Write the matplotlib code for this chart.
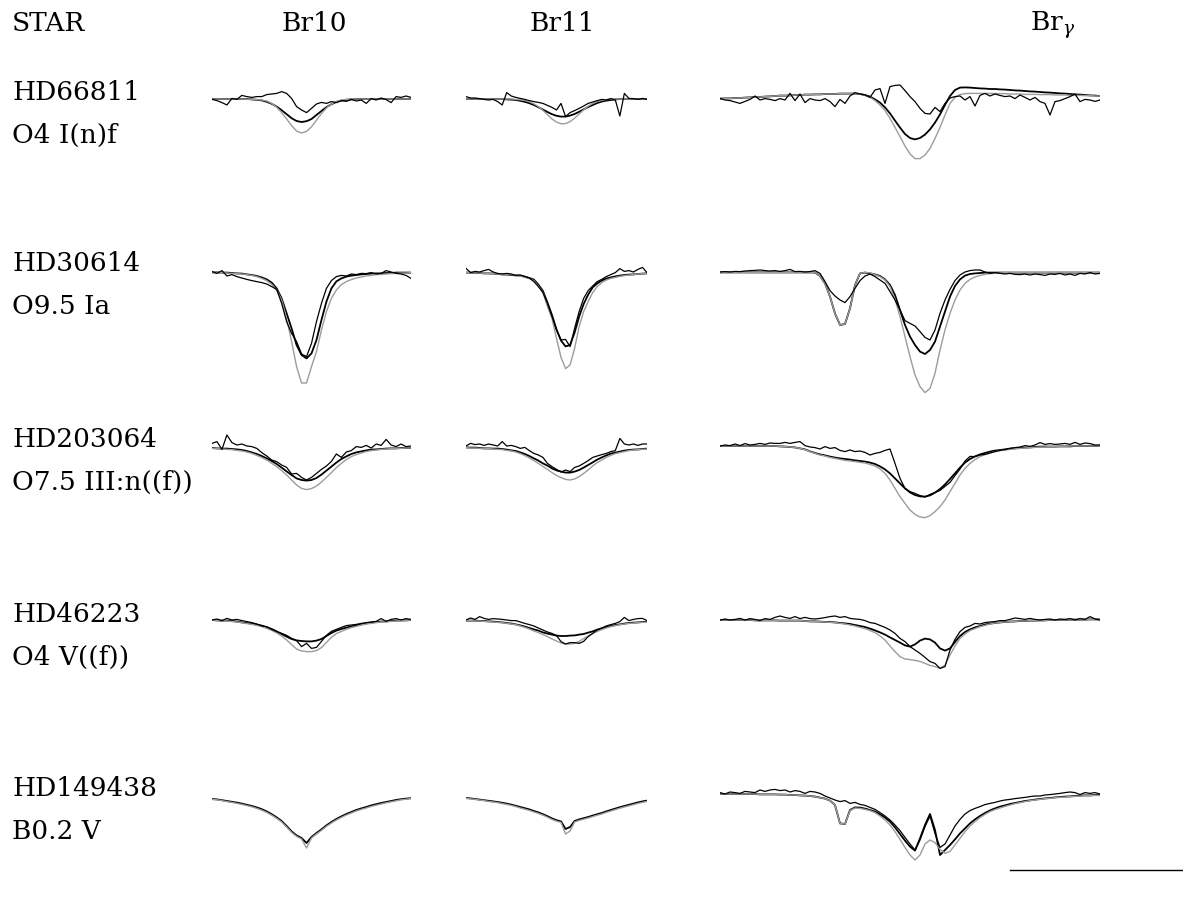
import numpy as np
import matplotlib.pyplot as plt

plt.rcParams['font.family'] = 'DejaVu Serif'
plt.rcParams['mathtext.fontset'] = 'dejavuserif'

# Labels
stars = ['HD66811', 'HD30614', 'HD203064', 'HD46223', 'HD149438']
sptypes = ['O4 I(n)f', 'O9.5 Ia', 'O7.5 III:n((f))', 'O4 V((f))', 'B0.2 V']
line_names = ['Br10', 'Br11', r'Br$_\gamma$']

# Wavelength windows (micron) of each column
br10_window = (1.7263, 1.7493)
br11_window = (1.66965, 1.69057)
brg_window = (2.14356, 2.18749)
scale_bar_len = 0.02   # micron
scale_bar_start = 2.1771

# Normalised flux: obs = observed spectrum, fit = black model, alt = grey model
# ---- HD66811 ----
hd66811_br10_obs = [0.998, 0.992, 0.982, 0.97, 1.003, 0.998, 1.018, 1.012, 1.008, 1.012,
                    1.012, 1.022, 1.025, 1.028, 1.037, 1.028, 1.003, 0.962, 0.945, 0.932,
                    0.953, 0.975, 0.983, 0.978, 0.987, 0.982, 0.992, 0.988, 0.998, 0.99,
                    0.995, 0.978, 1.002, 0.995, 1.005, 0.997, 0.982, 1.012, 1.008, 1.015, 1.008]
hd66811_br10_fit = [1.0, 1.0, 1.0, 1.0, 1.0, 1.0, 1.0, 1.0, 0.998, 0.996,
                    0.993, 0.986, 0.976, 0.962, 0.944, 0.924, 0.904, 0.89, 0.885, 0.889,
                    0.9, 0.92, 0.94, 0.959, 0.974, 0.985, 0.992, 0.996, 0.998, 1.0,
                    1.0, 1.0, 1.0, 1.0, 1.0, 1.0, 1.0, 1.0, 1.0, 1.0, 1.0]
hd66811_br10_alt = [1.0, 1.0, 1.0, 1.0, 1.0, 1.0, 1.0, 0.999, 0.998, 0.997,
                    0.995, 0.99, 0.978, 0.959, 0.932, 0.9, 0.867, 0.84, 0.83, 0.838,
                    0.861, 0.894, 0.927, 0.955, 0.975, 0.988, 0.995, 0.998, 1.0, 1.0,
                    1.0, 1.0, 1.0, 1.0, 1.0, 1.0, 1.0, 1.0, 1.0, 1.0, 1.0]
hd66811_br11_obs = [1.012, 1.005, 1.005, 1.002, 0.998, 0.995, 0.998, 0.987, 0.97, 1.032,
                    1.015, 1.008, 1.003, 0.998, 0.992, 0.987, 0.983, 0.978, 0.968, 0.958,
                    0.945, 0.978, 0.912, 0.932, 0.942, 0.953, 0.965, 0.978, 0.985, 0.992,
                    0.998, 0.995, 1.002, 0.995, 0.915, 1.028, 1.003, 1.002, 0.998, 1.003, 0.998]
hd66811_br11_fit = [1.0, 1.0, 1.0, 1.0, 1.0, 1.0, 1.0, 1.0, 1.0, 0.998,
                    0.997, 0.995, 0.991, 0.986, 0.979, 0.97, 0.959, 0.947, 0.935, 0.924,
                    0.916, 0.912, 0.912, 0.917, 0.925, 0.936, 0.948, 0.96, 0.97, 0.98,
                    0.987, 0.992, 0.995, 0.998, 1.0, 1.0, 1.0, 1.0, 1.0, 1.0, 1.0]
hd66811_br11_alt = [1.0, 1.0, 1.0, 1.0, 1.0, 1.0, 1.0, 1.0, 1.0, 1.0,
                    1.0, 0.998, 0.996, 0.993, 0.986, 0.976, 0.962, 0.943, 0.922, 0.9,
                    0.885, 0.876, 0.877, 0.887, 0.904, 0.925, 0.946, 0.964, 0.978, 0.988,
                    0.993, 0.997, 1.0, 1.0, 1.0, 1.0, 1.0, 1.0, 1.0, 1.0, 1.0]
hd66811_brg_obs = [1.003, 0.995, 0.992, 0.985, 0.978, 0.988, 0.998, 1.015, 0.995, 1.002,
                   0.998, 0.992, 1.002, 0.995, 1.028, 0.992, 1.025, 0.982, 1.002, 0.995,
                   0.992, 1.002, 0.987, 0.962, 0.998, 0.978, 1.015, 1.032, 1.025, 1.02,
                   1.008, 1.045, 1.052, 0.978, 1.062, 1.068, 1.07, 1.042, 1.012, 0.987,
                   0.953, 0.928, 0.925, 0.958, 0.937, 0.978, 1.005, 1.012, 1.015, 0.995,
                   1.012, 0.965, 1.018, 1.028, 1.015, 1.025, 1.018, 1.012, 1.015, 1.002,
                   1.02, 1.008, 0.995, 1.008, 0.987, 0.978, 0.92, 0.987, 0.992, 1.002,
                   1.012, 1.025, 0.987, 0.998, 0.995, 0.988, 0.995]
hd66811_brg_fit = [1.002, 1.003, 1.003, 1.005, 1.005, 1.007, 1.008, 1.01, 1.01, 1.012,
                   1.013, 1.015, 1.017, 1.017, 1.018, 1.02, 1.02, 1.022, 1.022, 1.023,
                   1.023, 1.025, 1.025, 1.025, 1.027, 1.027, 1.027, 1.027, 1.025, 1.02,
                   1.012, 0.998, 0.982, 0.958, 0.928, 0.892, 0.857, 0.825, 0.805, 0.798,
                   0.805, 0.822, 0.848, 0.882, 0.923, 0.97, 1.015, 1.045, 1.057, 1.058,
                   1.057, 1.055, 1.053, 1.052, 1.05, 1.05, 1.048, 1.047, 1.045, 1.043,
                   1.042, 1.04, 1.038, 1.037, 1.035, 1.033, 1.032, 1.03, 1.028, 1.027,
                   1.025, 1.023, 1.022, 1.02, 1.018, 1.017, 1.015]
hd66811_brg_alt = [1.002, 1.003, 1.003, 1.005, 1.005, 1.007, 1.008, 1.01, 1.01, 1.012,
                   1.013, 1.015, 1.017, 1.017, 1.018, 1.02, 1.02, 1.022, 1.022, 1.023,
                   1.023, 1.025, 1.025, 1.025, 1.027, 1.027, 1.027, 1.027, 1.025, 1.018,
                   1.008, 0.992, 0.97, 0.942, 0.903, 0.858, 0.812, 0.765, 0.725, 0.702,
                   0.702, 0.72, 0.753, 0.803, 0.858, 0.92, 0.978, 1.008, 1.022, 1.027,
                   1.028, 1.028, 1.028, 1.028, 1.028, 1.027, 1.027, 1.027, 1.025, 1.025,
                   1.025, 1.023, 1.023, 1.023, 1.022, 1.022, 1.022, 1.02, 1.02, 1.02,
                   1.018, 1.018, 1.018, 1.017, 1.017, 1.015, 1.015]

# ---- HD30614 ----
hd30614_br10_obs = [1.007, 0.998, 1.012, 0.985, 0.992, 0.982, 0.975, 0.968, 0.962, 0.957,
                    0.952, 0.945, 0.932, 0.918, 0.848, 0.757, 0.698, 0.657, 0.595, 0.582,
                    0.648, 0.757, 0.848, 0.923, 0.962, 0.982, 0.988, 0.985, 0.995, 0.992,
                    0.998, 0.997, 1.002, 0.995, 0.998, 1.012, 1.005, 0.998, 0.995, 0.988, 0.973]
hd30614_br10_fit = [1.003, 1.003, 1.002, 1.002, 1.0, 0.998, 0.997, 0.993, 0.99, 0.985,
                    0.978, 0.968, 0.952, 0.923, 0.873, 0.798, 0.723, 0.64, 0.59, 0.573,
                    0.598, 0.665, 0.765, 0.857, 0.923, 0.958, 0.973, 0.982, 0.987, 0.99,
                    0.993, 0.995, 0.997, 0.998, 0.998, 1.0, 1.0, 1.002, 1.002, 1.002, 1.002]
hd30614_br10_alt = [1.002, 1.002, 1.002, 1.0, 0.998, 0.997, 0.995, 0.992, 0.988, 0.982,
                    0.973, 0.962, 0.943, 0.915, 0.865, 0.773, 0.657, 0.532, 0.45, 0.45,
                    0.532, 0.607, 0.715, 0.807, 0.873, 0.915, 0.942, 0.957, 0.967, 0.975,
                    0.98, 0.985, 0.988, 0.992, 0.993, 0.995, 0.997, 0.998, 1.0, 1.0, 1.002]
hd30614_br11_obs = [1.023, 1.002, 1.008, 1.005, 1.012, 1.018, 1.005, 0.998, 0.995, 0.998,
                    0.995, 0.988, 0.99, 0.982, 0.975, 0.957, 0.932, 0.902, 0.848, 0.782,
                    0.715, 0.665, 0.668, 0.632, 0.723, 0.807, 0.873, 0.912, 0.935, 0.957,
                    0.968, 0.982, 0.992, 1.002, 1.022, 1.008, 1.012, 1.005, 1.018, 1.028, 1.002]
hd30614_br11_fit = [1.002, 1.002, 1.0, 1.0, 0.998, 0.998, 0.997, 0.995, 0.993, 0.992,
                    0.99, 0.988, 0.987, 0.982, 0.975, 0.967, 0.942, 0.91, 0.852, 0.79,
                    0.718, 0.662, 0.633, 0.64, 0.702, 0.782, 0.845, 0.892, 0.928, 0.948,
                    0.962, 0.972, 0.978, 0.983, 0.987, 0.99, 0.992, 0.993, 0.995, 0.997, 0.998]
hd30614_br11_alt = [1.002, 1.002, 1.0, 1.0, 0.998, 0.998, 0.997, 0.995, 0.993, 0.992,
                    0.992, 0.99, 0.985, 0.978, 0.972, 0.962, 0.935, 0.902, 0.832, 0.773,
                    0.673, 0.578, 0.522, 0.54, 0.623, 0.732, 0.807, 0.857, 0.902, 0.932,
                    0.952, 0.965, 0.973, 0.978, 0.983, 0.987, 0.99, 0.992, 0.995, 0.997, 0.998]
hd30614_brg_obs = [1.005, 1.007, 1.005, 1.008, 1.007, 1.01, 1.012, 1.013, 1.015, 1.012,
                   1.01, 1.012, 1.008, 1.012, 1.018, 1.007, 1.008, 1.005, 1.007, 1.012,
                   0.998, 0.957, 0.912, 0.885, 0.865, 0.852, 0.882, 0.923, 0.962, 0.985,
                   0.995, 0.982, 0.965, 0.948, 0.907, 0.865, 0.815, 0.762, 0.748, 0.735,
                   0.707, 0.678, 0.665, 0.715, 0.798, 0.865, 0.918, 0.962, 0.99, 1.005,
                   1.012, 1.015, 1.015, 1.005, 0.998, 1.002, 0.998, 0.995, 0.998, 0.993,
                   0.992, 0.995, 0.99, 0.995, 0.992, 0.988, 0.995, 0.993, 0.998, 0.99,
                   0.995, 0.988, 0.998, 0.995, 1.002, 0.995, 0.998]
hd30614_brg_fit = [1.003, 1.003, 1.003, 1.003, 1.003, 1.003, 1.003, 1.003, 1.003, 1.003,
                   1.003, 1.003, 1.003, 1.003, 1.003, 1.003, 1.003, 1.003, 1.003, 1.002,
                   0.985, 0.948, 0.882, 0.798, 0.74, 0.745, 0.823, 0.94, 0.998, 1.002,
                   0.998, 0.993, 0.985, 0.968, 0.94, 0.89, 0.815, 0.74, 0.682, 0.64,
                   0.607, 0.595, 0.615, 0.657, 0.732, 0.807, 0.882, 0.935, 0.968, 0.987,
                   0.995, 0.998, 1.0, 1.002, 1.002, 1.002, 1.002, 1.002, 1.002, 1.002,
                   1.002, 1.002, 1.002, 1.002, 1.002, 1.002, 1.002, 1.002, 1.002, 1.002,
                   1.002, 1.002, 1.002, 1.002, 1.002, 1.002, 1.002]
hd30614_brg_alt = [1.003, 1.003, 1.003, 1.003, 1.003, 1.003, 1.003, 1.003, 1.003, 1.003,
                   1.003, 1.003, 1.003, 1.003, 1.003, 1.003, 1.003, 1.003, 1.003, 1.002,
                   0.985, 0.948, 0.882, 0.798, 0.74, 0.745, 0.823, 0.94, 0.998, 1.003,
                   1.0, 0.992, 0.982, 0.965, 0.932, 0.868, 0.782, 0.682, 0.582, 0.49,
                   0.432, 0.402, 0.423, 0.498, 0.615, 0.715, 0.798, 0.865, 0.915, 0.948,
                   0.968, 0.98, 0.988, 0.993, 0.997, 0.998, 1.0, 1.002, 1.002, 1.002,
                   1.002, 1.002, 1.002, 1.002, 1.002, 1.002, 1.002, 1.003, 1.003, 1.003,
                   1.003, 1.003, 1.003, 1.003, 1.003, 1.003, 1.003]

# ---- HD203064 ----
hd203064_br10_obs = [1.023, 1.032, 0.993, 1.065, 1.027, 1.015, 1.02, 1.01, 1.007, 0.998,
                     0.977, 0.96, 0.94, 0.932, 0.915, 0.903, 0.87, 0.873, 0.853, 0.84,
                     0.853, 0.873, 0.893, 0.91, 0.933, 0.97, 0.953, 0.98, 0.987, 1.007,
                     1.003, 1.013, 1.0, 1.02, 1.013, 1.043, 1.015, 1.007, 1.02, 1.007, 1.01]
hd203064_br10_fit = [1.0, 0.998, 0.997, 0.997, 0.995, 0.993, 0.99, 0.985, 0.978, 0.97,
                     0.96, 0.948, 0.935, 0.92, 0.902, 0.883, 0.865, 0.848, 0.84, 0.837,
                     0.84, 0.85, 0.867, 0.887, 0.907, 0.927, 0.945, 0.958, 0.97, 0.978,
                     0.983, 0.988, 0.992, 0.993, 0.995, 0.997, 0.998, 0.998, 1.0, 1.0, 1.0]
hd203064_br10_alt = [0.998, 0.997, 0.995, 0.993, 0.992, 0.988, 0.985, 0.98, 0.973, 0.963,
                     0.952, 0.94, 0.923, 0.907, 0.887, 0.865, 0.84, 0.815, 0.798, 0.792,
                     0.797, 0.81, 0.83, 0.853, 0.877, 0.902, 0.923, 0.942, 0.957, 0.967,
                     0.975, 0.982, 0.987, 0.99, 0.993, 0.995, 0.997, 0.998, 0.998, 1.0, 1.0]
hd203064_br11_obs = [1.01, 1.023, 1.017, 1.02, 1.013, 1.02, 1.015, 1.01, 1.032, 1.01,
                     1.013, 1.007, 0.998, 1.003, 0.987, 0.973, 0.965, 0.953, 0.923, 0.907,
                     0.893, 0.88, 0.89, 0.882, 0.903, 0.91, 0.923, 0.937, 0.953, 0.96,
                     0.967, 0.973, 0.982, 0.987, 1.048, 1.02, 1.015, 1.02, 1.013, 1.02, 1.02]
hd203064_br11_fit = [1.003, 1.002, 1.002, 1.0, 0.998, 0.998, 0.997, 0.997, 0.995, 0.992,
                     0.988, 0.985, 0.978, 0.97, 0.96, 0.948, 0.937, 0.923, 0.912, 0.898,
                     0.888, 0.882, 0.877, 0.877, 0.882, 0.89, 0.902, 0.915, 0.928, 0.942,
                     0.953, 0.963, 0.972, 0.977, 0.982, 0.987, 0.99, 0.992, 0.993, 0.995, 0.997]
hd203064_br11_alt = [1.002, 1.0, 1.0, 0.998, 0.997, 0.997, 0.995, 0.993, 0.992, 0.988,
                     0.985, 0.98, 0.972, 0.962, 0.95, 0.937, 0.923, 0.908, 0.893, 0.877,
                     0.863, 0.852, 0.843, 0.84, 0.845, 0.857, 0.873, 0.89, 0.91, 0.927,
                     0.94, 0.953, 0.963, 0.972, 0.977, 0.982, 0.987, 0.99, 0.992, 0.993, 0.995]
hd203064_brg_obs = [1.01, 1.015, 1.012, 1.02, 1.012, 1.022, 1.015, 1.018, 1.023, 1.018,
                    1.025, 1.023, 1.023, 1.028, 1.023, 1.028, 1.032, 1.012, 1.005, 1.002,
                    0.995, 1.007, 0.998, 1.002, 0.988, 0.982, 0.99, 0.982, 0.985, 0.978,
                    0.965, 0.973, 0.978, 0.988, 0.995, 0.923, 0.848, 0.798, 0.782, 0.773,
                    0.762, 0.755, 0.768, 0.777, 0.788, 0.808, 0.828, 0.862, 0.895, 0.935,
                    0.958, 0.957, 0.965, 0.968, 0.975, 0.982, 0.988, 0.992, 0.998, 1.002,
                    1.005, 1.012, 1.008, 1.015, 1.027, 1.018, 1.022, 1.018, 1.02, 1.023,
                    1.018, 1.028, 1.018, 1.025, 1.022, 1.015, 1.015]
hd203064_brg_fit = [1.01, 1.01, 1.01, 1.01, 1.01, 1.01, 1.01, 1.01, 1.01, 1.01,
                    1.01, 1.01, 1.008, 1.007, 1.005, 1.003, 0.998, 0.993, 0.983, 0.975,
                    0.968, 0.963, 0.957, 0.952, 0.948, 0.945, 0.942, 0.938, 0.935, 0.932,
                    0.927, 0.92, 0.908, 0.893, 0.873, 0.848, 0.823, 0.798, 0.778, 0.765,
                    0.758, 0.757, 0.763, 0.777, 0.795, 0.818, 0.845, 0.873, 0.902, 0.927,
                    0.945, 0.958, 0.968, 0.975, 0.982, 0.987, 0.99, 0.993, 0.997, 0.998,
                    1.0, 1.002, 1.003, 1.005, 1.007, 1.007, 1.007, 1.007, 1.008, 1.008,
                    1.008, 1.01, 1.01, 1.01, 1.01, 1.01, 1.012]
hd203064_brg_alt = [1.01, 1.01, 1.01, 1.01, 1.01, 1.01, 1.01, 1.01, 1.01, 1.01,
                    1.01, 1.01, 1.008, 1.007, 1.005, 1.003, 0.998, 0.992, 0.982, 0.973,
                    0.965, 0.96, 0.953, 0.948, 0.943, 0.938, 0.935, 0.932, 0.928, 0.925,
                    0.918, 0.91, 0.895, 0.873, 0.84, 0.798, 0.757, 0.723, 0.69, 0.668,
                    0.655, 0.652, 0.662, 0.682, 0.707, 0.74, 0.782, 0.823, 0.865, 0.898,
                    0.923, 0.942, 0.957, 0.967, 0.975, 0.982, 0.987, 0.99, 0.993, 0.997,
                    0.998, 1.0, 1.002, 1.003, 1.005, 1.005, 1.007, 1.007, 1.008, 1.008,
                    1.01, 1.01, 1.01, 1.01, 1.01, 1.01, 1.012]

# ---- HD46223 ----
hd46223_br10_obs = [1.0, 1.005, 0.997, 1.008, 1.0, 1.003, 0.997, 0.992, 0.987, 0.98,
                    0.97, 0.967, 0.953, 0.942, 0.933, 0.923, 0.908, 0.897, 0.867, 0.883,
                    0.858, 0.863, 0.893, 0.923, 0.943, 0.953, 0.963, 0.972, 0.975, 0.978,
                    0.983, 0.987, 0.99, 0.993, 1.007, 0.993, 1.003, 1.007, 1.0, 1.007, 1.003]
hd46223_br10_fit = [1.0, 0.998, 0.997, 0.997, 0.995, 0.992, 0.988, 0.985, 0.982, 0.977,
                    0.972, 0.963, 0.955, 0.943, 0.93, 0.917, 0.905, 0.898, 0.895, 0.893,
                    0.893, 0.897, 0.905, 0.92, 0.935, 0.947, 0.955, 0.962, 0.968, 0.973,
                    0.978, 0.983, 0.987, 0.99, 0.992, 0.993, 0.995, 0.997, 0.998, 0.998, 1.0]
hd46223_br10_alt = [1.0, 0.998, 0.997, 0.995, 0.993, 0.99, 0.987, 0.982, 0.978, 0.973,
                    0.967, 0.958, 0.948, 0.935, 0.92, 0.9, 0.877, 0.855, 0.845, 0.842,
                    0.842, 0.847, 0.862, 0.888, 0.913, 0.932, 0.943, 0.953, 0.962, 0.968,
                    0.975, 0.98, 0.983, 0.987, 0.99, 0.992, 0.993, 0.995, 0.997, 0.998, 1.0]
hd46223_br11_obs = [1.0, 1.01, 1.003, 1.017, 1.008, 1.003, 1.007, 1.005, 1.003, 1.0,
                    0.997, 0.997, 0.99, 0.983, 0.977, 0.97, 0.96, 0.95, 0.94, 0.933,
                    0.922, 0.892, 0.88, 0.887, 0.887, 0.883, 0.893, 0.917, 0.933, 0.95,
                    0.96, 0.97, 0.977, 0.983, 0.992, 1.013, 0.997, 1.003, 1.007, 1.008, 0.997]
hd46223_br11_fit = [0.997, 0.997, 0.997, 0.995, 0.995, 0.993, 0.992, 0.99, 0.988, 0.985,
                    0.982, 0.978, 0.973, 0.967, 0.96, 0.953, 0.947, 0.938, 0.932, 0.927,
                    0.922, 0.92, 0.92, 0.922, 0.923, 0.927, 0.93, 0.937, 0.943, 0.952,
                    0.958, 0.965, 0.97, 0.975, 0.978, 0.982, 0.985, 0.987, 0.988, 0.99, 0.992]
hd46223_br11_alt = [0.997, 0.997, 0.995, 0.995, 0.993, 0.992, 0.99, 0.988, 0.987, 0.983,
                    0.98, 0.977, 0.97, 0.963, 0.955, 0.945, 0.937, 0.927, 0.917, 0.905,
                    0.895, 0.885, 0.88, 0.88, 0.883, 0.893, 0.907, 0.92, 0.933, 0.943,
                    0.952, 0.96, 0.967, 0.972, 0.977, 0.98, 0.983, 0.985, 0.987, 0.988, 0.99]
hd46223_brg_obs = [1.0, 1.005, 1.0, 1.003, 1.008, 1.0, 1.007, 1.003, 0.997, 1.007,
                   1.003, 1.013, 1.02, 1.013, 1.008, 1.017, 1.007, 1.013, 1.007, 1.005,
                   1.008, 1.012, 1.017, 1.02, 1.013, 1.017, 1.008, 1.005, 1.003, 0.997,
                   0.987, 0.983, 0.973, 0.963, 0.95, 0.933, 0.908, 0.892, 0.867, 0.85,
                   0.833, 0.813, 0.792, 0.783, 0.758, 0.767, 0.85, 0.903, 0.942, 0.963,
                   0.97, 0.983, 0.98, 0.987, 0.99, 0.992, 0.997, 0.997, 1.003, 1.01,
                   1.007, 1.003, 1.008, 1.003, 1.0, 1.003, 1.005, 1.0, 1.005, 1.003,
                   1.007, 1.0, 1.007, 1.003, 1.017, 1.005, 1.0]
hd46223_brg_fit = [1.0, 1.0, 1.0, 1.0, 1.0, 1.0, 1.0, 0.998, 0.998, 0.998,
                   0.998, 0.998, 0.997, 0.997, 0.997, 0.997, 0.997, 0.995, 0.993, 0.993,
                   0.992, 0.99, 0.99, 0.988, 0.985, 0.983, 0.98, 0.975, 0.97, 0.965,
                   0.957, 0.948, 0.938, 0.927, 0.913, 0.9, 0.887, 0.873, 0.867, 0.878,
                   0.897, 0.907, 0.903, 0.887, 0.858, 0.847, 0.858, 0.89, 0.92, 0.94,
                   0.953, 0.963, 0.97, 0.977, 0.982, 0.985, 0.988, 0.99, 0.992, 0.993,
                   0.995, 0.995, 0.997, 0.997, 0.998, 0.998, 1.0, 1.0, 1.0, 1.0,
                   1.002, 1.002, 1.002, 1.002, 1.003, 1.003, 1.003]
hd46223_brg_alt = [1.0, 1.0, 1.0, 1.0, 1.0, 1.0, 1.0, 0.998, 0.998, 0.998,
                   0.998, 0.998, 0.997, 0.997, 0.997, 0.997, 0.997, 0.995, 0.993, 0.992,
                   0.992, 0.99, 0.988, 0.987, 0.983, 0.98, 0.975, 0.97, 0.963, 0.957,
                   0.947, 0.937, 0.92, 0.9, 0.87, 0.842, 0.817, 0.805, 0.802, 0.798,
                   0.793, 0.783, 0.773, 0.767, 0.758, 0.775, 0.825, 0.87, 0.908, 0.93,
                   0.947, 0.957, 0.967, 0.973, 0.98, 0.985, 0.988, 0.99, 0.992, 0.993,
                   0.995, 0.995, 0.997, 0.997, 0.998, 0.998, 1.0, 1.0, 1.0, 1.0,
                   1.002, 1.002, 1.002, 1.002, 1.003, 1.003, 1.003]

# ---- HD149438 ----
hd149438_br10_fit = [0.975, 0.973, 0.969, 0.965, 0.961, 0.957, 0.952, 0.946, 0.94, 0.933,
                     0.924, 0.913, 0.899, 0.883, 0.865, 0.84, 0.813, 0.793, 0.78, 0.755,
                     0.785, 0.805, 0.823, 0.843, 0.86, 0.875, 0.888, 0.9, 0.91, 0.92,
                     0.928, 0.935, 0.943, 0.949, 0.955, 0.96, 0.965, 0.97, 0.974, 0.977, 0.979]
hd149438_br10_alt = [0.973, 0.971, 0.967, 0.962, 0.958, 0.953, 0.948, 0.942, 0.936, 0.928,
                     0.919, 0.908, 0.894, 0.878, 0.86, 0.835, 0.808, 0.788, 0.775, 0.73,
                     0.78, 0.8, 0.818, 0.838, 0.855, 0.87, 0.883, 0.895, 0.905, 0.915,
                     0.923, 0.93, 0.938, 0.944, 0.95, 0.956, 0.961, 0.966, 0.971, 0.974, 0.977]
hd149438_br11_fit = [0.98, 0.978, 0.975, 0.972, 0.969, 0.966, 0.963, 0.96, 0.956, 0.952,
                     0.947, 0.941, 0.935, 0.929, 0.923, 0.915, 0.908, 0.899, 0.889, 0.878,
                     0.869, 0.863, 0.825, 0.835, 0.865, 0.873, 0.879, 0.885, 0.892, 0.899,
                     0.905, 0.913, 0.92, 0.927, 0.934, 0.94, 0.946, 0.952, 0.958, 0.963, 0.967]
hd149438_br11_alt = [0.978, 0.976, 0.973, 0.97, 0.967, 0.963, 0.96, 0.957, 0.952, 0.948,
                     0.943, 0.937, 0.93, 0.924, 0.918, 0.91, 0.903, 0.894, 0.884, 0.873,
                     0.864, 0.858, 0.8, 0.815, 0.86, 0.868, 0.874, 0.88, 0.887, 0.894,
                     0.9, 0.908, 0.915, 0.922, 0.929, 0.935, 0.941, 0.947, 0.953, 0.958, 0.963]
hd149438_brg_obs = [1.007, 1.0, 1.01, 1.007, 1.003, 1.013, 1.01, 1.007, 1.02, 1.013,
                    1.02, 1.023, 1.017, 1.02, 1.01, 1.017, 1.013, 1.003, 1.013, 1.01,
                    1.003, 0.99, 0.98, 0.97, 0.962, 0.967, 0.953, 0.958, 0.948, 0.943,
                    0.933, 0.923, 0.907, 0.89, 0.87, 0.845, 0.817, 0.783, 0.75, 0.72,
                    0.77, 0.837, 0.89, 0.803, 0.733, 0.75, 0.795, 0.84, 0.873, 0.9,
                    0.917, 0.928, 0.937, 0.947, 0.953, 0.958, 0.965, 0.97, 0.973, 0.977,
                    0.98, 0.983, 0.987, 0.99, 0.99, 0.995, 0.997, 1.0, 1.003, 1.007,
                    1.01, 1.007, 0.997, 1.007, 1.003, 1.007, 1.0]
hd149438_brg_fit = [1.0, 1.0, 1.0, 1.0, 1.0, 1.0, 1.0, 1.0, 0.998, 0.998,
                    0.998, 0.998, 0.997, 0.997, 0.995, 0.995, 0.993, 0.992, 0.99, 0.987,
                    0.982, 0.977, 0.967, 0.945, 0.853, 0.85, 0.92, 0.933, 0.932, 0.927,
                    0.92, 0.912, 0.898, 0.882, 0.862, 0.833, 0.8, 0.767, 0.737, 0.717,
                    0.778, 0.845, 0.9, 0.82, 0.695, 0.72, 0.745, 0.773, 0.803, 0.828,
                    0.853, 0.873, 0.89, 0.905, 0.918, 0.928, 0.937, 0.943, 0.95, 0.955,
                    0.96, 0.965, 0.968, 0.972, 0.975, 0.978, 0.98, 0.983, 0.985, 0.987,
                    0.988, 0.99, 0.992, 0.993, 0.993, 0.995, 0.995]
hd149438_brg_alt = [1.0, 1.0, 1.0, 1.0, 1.0, 1.0, 1.0, 1.0, 0.998, 0.998,
                    0.998, 0.998, 0.997, 0.997, 0.995, 0.995, 0.993, 0.992, 0.99, 0.987,
                    0.982, 0.977, 0.967, 0.945, 0.853, 0.85, 0.917, 0.93, 0.928, 0.923,
                    0.917, 0.907, 0.89, 0.87, 0.845, 0.812, 0.773, 0.733, 0.695, 0.67,
                    0.695, 0.75, 0.77, 0.757, 0.723, 0.703, 0.713, 0.745, 0.778, 0.812,
                    0.84, 0.862, 0.882, 0.898, 0.912, 0.922, 0.93, 0.938, 0.945, 0.952,
                    0.957, 0.962, 0.967, 0.97, 0.973, 0.977, 0.978, 0.982, 0.983, 0.985,
                    0.987, 0.988, 0.99, 0.992, 0.992, 0.993, 0.993]

windows = [br10_window, br11_window, brg_window]
panels = {
    (0, 0): (hd66811_br10_obs, hd66811_br10_fit, hd66811_br10_alt),
    (0, 1): (hd66811_br11_obs, hd66811_br11_fit, hd66811_br11_alt),
    (0, 2): (hd66811_brg_obs, hd66811_brg_fit, hd66811_brg_alt),
    (1, 0): (hd30614_br10_obs, hd30614_br10_fit, hd30614_br10_alt),
    (1, 1): (hd30614_br11_obs, hd30614_br11_fit, hd30614_br11_alt),
    (1, 2): (hd30614_brg_obs, hd30614_brg_fit, hd30614_brg_alt),
    (2, 0): (hd203064_br10_obs, hd203064_br10_fit, hd203064_br10_alt),
    (2, 1): (hd203064_br11_obs, hd203064_br11_fit, hd203064_br11_alt),
    (2, 2): (hd203064_brg_obs, hd203064_brg_fit, hd203064_brg_alt),
    (3, 0): (hd46223_br10_obs, hd46223_br10_fit, hd46223_br10_alt),
    (3, 1): (hd46223_br11_obs, hd46223_br11_fit, hd46223_br11_alt),
    (3, 2): (hd46223_brg_obs, hd46223_brg_fit, hd46223_brg_alt),
    (4, 0): (None, hd149438_br10_fit, hd149438_br10_alt),
    (4, 1): (None, hd149438_br11_fit, hd149438_br11_alt),
    (4, 2): (hd149438_brg_obs, hd149438_brg_fit, hd149438_brg_alt),
}

# layout in pixels
W, H = 1183, 898
col_px = [(212, 411), (466, 647), (720, 1100)]
row_cont_px = [99, 273, 448, 620, 794]
ylo, yhi = 0.35, 1.10
px_per_flux = 200.0

fig = plt.figure(figsize=(W / 100, H / 100), dpi=100)

axes = {}
for (r, c), (obs, fit, alt) in panels.items():
    x0, x1 = col_px[c]
    top = row_cont_px[r] - (yhi - 1) * px_per_flux
    bot = row_cont_px[r] + (1 - ylo) * px_per_flux
    ax = fig.add_axes([x0 / W, 1 - bot / H, (x1 - x0) / W, (bot - top) / H])
    ax.set_xlim(windows[c])
    ax.set_ylim(ylo, yhi)
    ax.axis('off')
    lo, hi = windows[c]
    ax.plot(np.linspace(lo, hi, len(fit)), fit, color='black', lw=1.3, zorder=2)
    ax.plot(np.linspace(lo, hi, len(alt)), alt, color='#9c9c9c', lw=1.0, zorder=3)
    if obs is not None:
        ax.plot(np.linspace(lo, hi, len(obs)), obs, color='black', lw=0.9, zorder=4)
    axes[(r, c)] = ax

# scale bar under the last Br gamma panel
ax = axes[(4, 2)]
ax.plot([scale_bar_start, scale_bar_start + scale_bar_len], [0.62, 0.62],
        color='black', lw=1.0, clip_on=False)

# text
fs = 19
fig.text(12 / W, 1 - 31 / H, 'STAR', fontsize=fs, va='baseline')
title_x = [314, 562, 1053]
for name, xc in zip(line_names, title_x):
    fig.text(xc / W, 1 - 31 / H, name, fontsize=fs, va='baseline', ha='center')

star_base = [100, 271, 447, 622, 796]
for s, sp, yb in zip(stars, sptypes, star_base):
    fig.text(12 / W, 1 - yb / H, s, fontsize=fs, va='baseline')
    fig.text(12 / W, 1 - (yb + 43) / H, sp, fontsize=fs, va='baseline')

fig.savefig('out.png', dpi=100)
